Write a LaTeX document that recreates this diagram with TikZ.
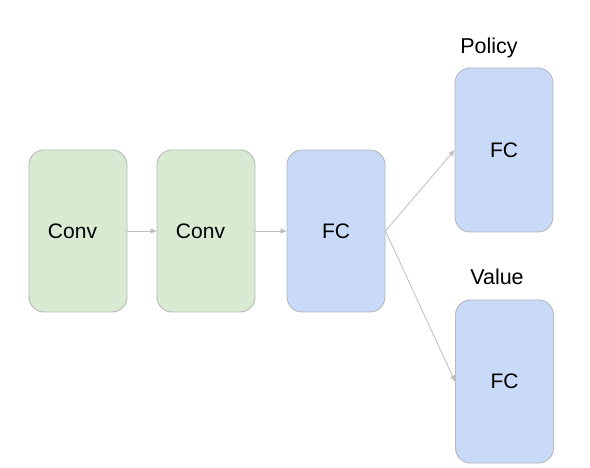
\documentclass[tikz,border=0pt]{standalone}
\usepackage{fontspec}
\setmainfont{Liberation Sans}
\usetikzlibrary{arrows.meta}
\definecolor{gfill}{HTML}{D9EAD3}
\definecolor{bfill}{HTML}{C9DAF8}
\definecolor{edgec}{HTML}{B7B7B7}
\definecolor{arrc}{HTML}{BDBDBD}
\begin{document}
\begin{tikzpicture}[x=1pt,y=-1pt,
  layer/.style={draw=edgec, line width=0.9pt, rounded corners=15pt, minimum width=98pt, minimum height=162pt, inner sep=0pt, font=\fontsize{21}{24}\selectfont, text=black},
  conv/.style={layer, fill=gfill},
  fc/.style={layer, fill=bfill},
  lbl/.style={font=\fontsize{21.5}{24}\selectfont, text=black, inner sep=0pt},
  conn/.style={draw=arrc, line width=0.8pt, -{Triangle[length=6pt,width=5pt]}}]
\useasboundingbox (0,0) rectangle (590,468);
\node[conv] (c1) at (78,231) {Conv\hspace*{11pt}};
\node[conv] (c2) at (206,231) {Conv\hspace*{11pt}};
\node[fc] (f1) at (336,231) {FC};
\node[fc, minimum height=164pt] (p) at (504,150) {FC};
\node[fc, minimum height=163pt] (v) at (504.5,381.5) {FC};
\node[lbl] (pl) at (489,48) {Policy};
\node[lbl] (vl) at (497,277) {Value};
\draw[conn] (c1.east) -- (c2.west);
\draw[conn] (c2.east) -- (f1.west);
\draw[conn] (f1.east) -- (p.west);
\draw[conn] (f1.east) -- (v.west);
\end{tikzpicture}
\end{document}
